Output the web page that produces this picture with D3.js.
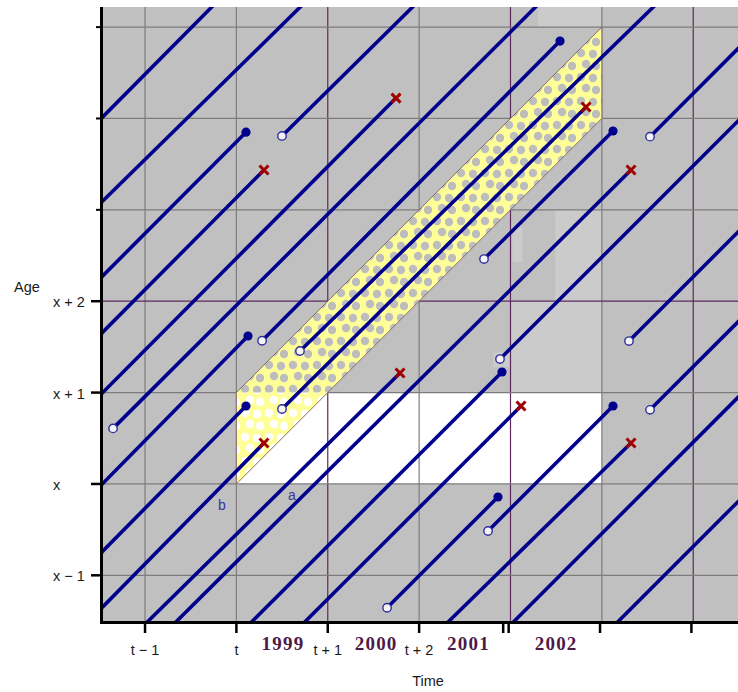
<!DOCTYPE html>
<html>
<head>
<meta charset="utf-8">
<script src="https://cdn.jsdelivr.net/npm/d3@7/dist/d3.min.js"></script>
<style>
  body { margin: 0; background: #fff; }
  svg text { font-family: "Liberation Sans", Arial, sans-serif; }
</style>
</head>
<body>
<div id="chart"></div>
<script>
// Lexis diagram: time runs along x (t-1 = 0), age along y (x = 0)
const timeTicks = [0, 1, 2, 3];
const timeTickLabels = ["t \u2212 1", "t", "t + 1", "t + 2"];
const extraTimeTicks = [3.92, 3.98, 4.98, 5.98];
const ageTicks = [-1, 0, 1, 2];
const ageTickLabels = ["x \u2212 1", "x", "x + 1", "x + 2"];
const minorAgeTicks = [3, 4, 5];
const gridTimes = [0, 1, 2, 3, 4, 5, 6];
const gridAges = [-1, 0, 1, 2, 3, 4, 5];
const purpleTimes = [2, 4, 6];
const purpleAges = [2];
const years = ["1999", "2000", "2001", "2002"];
const yearPos = [1.51, 2.53, 3.54, 4.50];

// observed block (white) and the cohort band (yellow)
const whiteBlock = [1, 5, 0, 1];             // t0, t1, a0, a1
const band = [[1, 0], [1, 1], [5, 5], [5, 4]];
const bandFirstPart = [[1, 0], [1, 1], [2, 1]];
// lighter scan patches in the original
const lightPatches = [
    [4.30, 5.0, 5.0, 5.22],
    [4.49, 5.0, 2.0, 3.0],
    [4.0, 5.0, 1.0, 2.0],
    [4.02, 4.13, 2.43, 2.81],
    [3.81, 4.03, 1.28, 1.44]
];

// life lines: [start time, start age, end time, end age, start kind, end kind]
const lifelines = [
    [-0.46, 4.02, 0.73, 5.22, "edge", "edge"],
    [-0.46, 3.10, 1.70, 5.22, "edge", "edge"],
    [-0.46, 2.28, 1.105, 3.85, "edge", "dot"],
    [-0.46, 1.664, 1.302, 3.436, "edge", "x"],
    [-0.46, 1.004, 2.747, 4.223, "edge", "x"],
    [-0.46, 0.007, 1.127, 1.619, "edge", "dot"],
    [-0.46, -0.734, 1.105, 0.853, "edge", "dot"],
    [-0.46, -1.344, 1.302, 0.448, "edge", "x"],
    [1.499, 3.809, 2.929, 5.22, "open", "edge"],
    [-0.35, 0.608, 4.274, 5.22, "open", "edge"],
    [1.281, 1.567, 4.542, 4.847, "open", "dot"],
    [1.696, 1.455, 5.565, 5.22, "open", "edge"],
    [1.499, 0.82, 4.827, 4.125, "open", "x"],
    [5.527, 3.801, 6.49, 4.764, "open", "edge"],
    [3.71, 2.461, 5.122, 3.863, "open", "dot"],
    [3.885, 1.367, 6.49, 3.972, "open", "edge"],
    [0.035, -1.5, 2.791, 1.214, "edge", "x"],
    [0.348, -1.5, 5.319, 3.436, "edge", "x"],
    [1.177, -1.5, 3.907, 1.225, "edge", "dot"],
    [1.759, -1.5, 4.115, 0.853, "edge", "x"],
    [2.649, -1.355, 3.863, -0.143, "open", "dot"],
    [3.754, -0.515, 5.122, 0.853, "open", "dot"],
    [5.297, 1.564, 6.49, 2.757, "open", "edge"],
    [3.327, -1.5, 5.319, 0.448, "edge", "x"],
    [5.527, 0.811, 6.49, 1.774, "open", "edge"],
    [4.043, -1.5, 6.49, 0.947, "edge", "edge"],
    [5.184, -1.5, 6.49, -0.194, "edge", "edge"]
];
const lineLabels = ["a", "b"];
const lineLabelPos = [[1.565, -0.176], [0.799, -0.286]];

const W = 738, H = 692;
const plot = { left: 103, right: 738, top: 7, bottom: 621 };

const x = d3.scaleLinear().domain([-0.46, 6.49]).range([plot.left, plot.right]);
const y = d3.scaleLinear().domain([-1.5, 5.22]).range([plot.bottom, plot.top]);

const svg = d3.select("#chart").append("svg")
    .attr("width", W)
    .attr("height", H);

const defs = svg.append("defs");
defs.append("clipPath").attr("id", "plotClip")
    .append("rect")
    .attr("x", plot.left).attr("y", plot.top)
    .attr("width", plot.right - plot.left).attr("height", plot.bottom - plot.top);

// dotted yellow fills
function dotPattern(id, dotColor) {
    const p = defs.append("pattern").attr("id", id)
        .attr("patternUnits", "userSpaceOnUse")
        .attr("width", 24).attr("height", 24);
    p.append("rect").attr("width", 24).attr("height", 24).attr("fill", "#ffff99");
    [[5, 5], [17, 6], [10, 16], [20, 18]].forEach(c => {
        p.append("circle").attr("cx", c[0]).attr("cy", c[1]).attr("r", 4.2).attr("fill", dotColor);
    });
}
dotPattern("greyDots", "#bdbdbd");
dotPattern("whiteDots", "#ffffff");

// background
svg.append("rect")
    .attr("x", plot.left).attr("y", plot.top)
    .attr("width", plot.right - plot.left).attr("height", plot.bottom - plot.top)
    .attr("fill", "#c0c0c0");

svg.selectAll(".patch")
    .data(lightPatches)
    .enter().append("rect")
    .attr("x", d => x(d[0])).attr("y", d => y(d[3]))
    .attr("width", d => x(d[1]) - x(d[0])).attr("height", d => y(d[2]) - y(d[3]))
    .attr("fill", "#cbcbcb");

svg.append("rect")
    .attr("x", x(whiteBlock[0])).attr("y", y(whiteBlock[3]))
    .attr("width", x(whiteBlock[1]) - x(whiteBlock[0]))
    .attr("height", y(whiteBlock[2]) - y(whiteBlock[3]))
    .attr("fill", "#ffffff");

// grid
const grid = svg.append("g");
grid.selectAll(".vgrid")
    .data(gridTimes)
    .enter().append("line")
    .attr("x1", d => x(d)).attr("x2", d => x(d))
    .attr("y1", plot.top).attr("y2", plot.bottom)
    .attr("stroke", d => purpleTimes.includes(d) ? "#5e2a5e" : "#7c7c7c")
    .attr("stroke-width", 1.2);
grid.selectAll(".hgrid")
    .data(gridAges)
    .enter().append("line")
    .attr("x1", plot.left).attr("x2", plot.right)
    .attr("y1", d => y(d)).attr("y2", d => y(d))
    .attr("stroke", d => purpleAges.includes(d) ? "#5e2a5e" : "#7c7c7c")
    .attr("stroke-width", 1.2);

// cohort band
const poly = d3.line().x(d => x(d[0])).y(d => y(d[1]));
svg.append("path")
    .attr("d", poly(band) + "Z")
    .attr("fill", "url(#greyDots)");
svg.append("path")
    .attr("d", poly(bandFirstPart) + "Z")
    .attr("fill", "url(#whiteDots)");
svg.append("path")
    .attr("d", poly(band) + "Z")
    .attr("fill", "none")
    .attr("stroke", "#8a6a6a")
    .attr("stroke-width", 1);

// life lines
const lifeG = svg.append("g").attr("clip-path", "url(#plotClip)");
lifeG.selectAll(".life")
    .data(lifelines)
    .enter().append("line")
    .attr("x1", d => x(d[4] === "edge" ? d[0] - 0.06 : d[0]))
    .attr("y1", d => y(d[4] === "edge" ? d[1] - 0.06 : d[1]))
    .attr("x2", d => x(d[5] === "edge" ? d[2] + 0.06 : d[2]))
    .attr("y2", d => y(d[5] === "edge" ? d[3] + 0.06 : d[3]))
    .attr("stroke", "#00008c")
    .attr("stroke-width", 3.6);

// entries (open circles)
lifeG.selectAll(".entry")
    .data(lifelines.filter(d => d[4] === "open"))
    .enter().append("circle")
    .attr("cx", d => x(d[0])).attr("cy", d => y(d[1]))
    .attr("r", 4.2)
    .attr("fill", "#f4f4f4")
    .attr("stroke", "#2e2e9e")
    .attr("stroke-width", 1.4);

// exits (filled dots)
lifeG.selectAll(".exit")
    .data(lifelines.filter(d => d[5] === "dot"))
    .enter().append("circle")
    .attr("cx", d => x(d[2])).attr("cy", d => y(d[3]))
    .attr("r", 4.6)
    .attr("fill", "#00008c");

// deaths (crosses)
const crosses = lifeG.selectAll(".death")
    .data(lifelines.filter(d => d[5] === "x"))
    .enter().append("g")
    .attr("transform", d => `translate(${x(d[2])},${y(d[3])})`);
crosses.append("path")
    .attr("d", "M-4.5,-4.5L4.5,4.5M-4.5,4.5L4.5,-4.5")
    .attr("stroke", "#a00000")
    .attr("stroke-width", 3);

// line labels
svg.selectAll(".llab")
    .data(lineLabels)
    .enter().append("text")
    .attr("x", (d, i) => x(lineLabelPos[i][0]))
    .attr("y", (d, i) => y(lineLabelPos[i][1]))
    .attr("fill", "#3535a5")
    .style("font-size", "14px")
    .text(d => d);

// axes
svg.append("line")
    .attr("x1", 101.5).attr("x2", 101.5)
    .attr("y1", plot.top).attr("y2", 624)
    .attr("stroke", "#000").attr("stroke-width", 3);
svg.append("line")
    .attr("x1", 100).attr("x2", plot.right)
    .attr("y1", 622.5).attr("y2", 622.5)
    .attr("stroke", "#000").attr("stroke-width", 3);

svg.selectAll(".ytick")
    .data(ageTicks)
    .enter().append("line")
    .attr("x1", 91).attr("x2", 101)
    .attr("y1", d => y(d)).attr("y2", d => y(d))
    .attr("stroke", "#000").attr("stroke-width", 2.5);
svg.selectAll(".ytickm")
    .data(minorAgeTicks)
    .enter().append("line")
    .attr("x1", 96).attr("x2", 101)
    .attr("y1", d => y(d)).attr("y2", d => y(d))
    .attr("stroke", "#000").attr("stroke-width", 2);
svg.selectAll(".ylab")
    .data(ageTicks)
    .enter().append("text")
    .attr("x", 53)
    .attr("y", d => y(d) + 6)
    .attr("fill", "#1a1a1a")
    .style("font-size", "14.5px")
    .text((d, i) => ageTickLabels[i]);

svg.selectAll(".xtick")
    .data(timeTicks.concat(extraTimeTicks))
    .enter().append("line")
    .attr("x1", d => x(d)).attr("x2", d => x(d))
    .attr("y1", 623).attr("y2", 633)
    .attr("stroke", "#000").attr("stroke-width", 2.5);
svg.selectAll(".xlab")
    .data(timeTicks)
    .enter().append("text")
    .attr("x", d => x(d))
    .attr("y", 655)
    .attr("text-anchor", "middle")
    .attr("fill", "#1a1a1a")
    .style("font-size", "14.5px")
    .text((d, i) => timeTickLabels[i]);

svg.selectAll(".year")
    .data(years)
    .enter().append("text")
    .attr("x", (d, i) => x(yearPos[i]))
    .attr("y", 650)
    .attr("text-anchor", "middle")
    .attr("fill", "#4d1a47")
    .style("font-family", "'Liberation Serif', 'Times New Roman', serif")
    .style("font-weight", "bold")
    .style("font-size", "19px")
    .style("letter-spacing", "1.2px")
    .text(d => d);

svg.append("text")
    .attr("x", 428).attr("y", 686)
    .attr("text-anchor", "middle")
    .attr("fill", "#1a1a1a")
    .style("font-size", "14.5px")
    .text("Time");

svg.append("text")
    .attr("x", 14).attr("y", 292)
    .attr("fill", "#1a1a1a")
    .style("font-size", "14.5px")
    .text("Age");
</script>
</body>
</html>
